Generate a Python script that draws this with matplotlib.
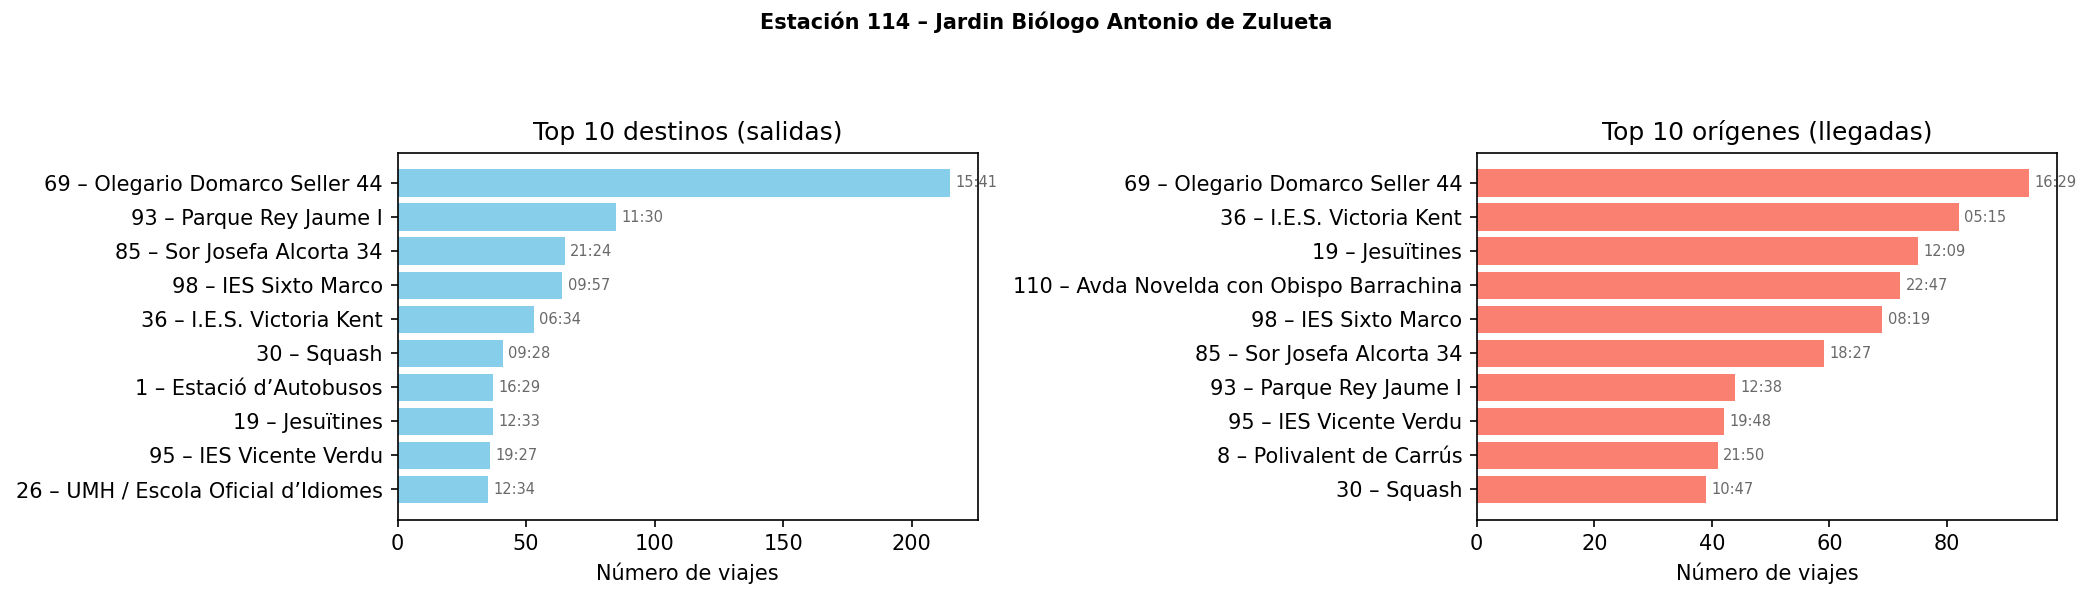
import matplotlib
matplotlib.use("Agg")
import matplotlib.pyplot as plt

dest_names = ["69 – Olegario Domarco Seller 44", "93 – Parque Rey Jaume I", "85 – Sor Josefa Alcorta 34",
              "98 – IES Sixto Marco", "36 – I.E.S. Victoria Kent", "30 – Squash", "1 – Estació d’Autobusos",
              "19 – Jesuïtines", "95 – IES Vicente Verdu", "26 – UMH / Escola Oficial d’Idiomes"]
dest_vals = [215, 85, 65, 64, 53, 41, 37, 37, 36, 35]
dest_times = ["15:41", "11:30", "21:24", "09:57", "06:34", "09:28", "16:29", "12:33", "19:27", "12:34"]

orig_names = ["69 – Olegario Domarco Seller 44", "36 – I.E.S. Victoria Kent", "19 – Jesuïtines",
              "110 – Avda Novelda con Obispo Barrachina", "98 – IES Sixto Marco", "85 – Sor Josefa Alcorta 34",
              "93 – Parque Rey Jaume I", "95 – IES Vicente Verdu", "8 – Polivalent de Carrús", "30 – Squash"]
orig_vals = [94, 82, 75, 72, 69, 59, 44, 42, 41, 39]
orig_times = ["16:29", "05:15", "12:09", "22:47", "08:19", "18:27", "12:38", "19:48", "21:50", "10:47"]

fig, axes = plt.subplots(1, 2, figsize=(13.95, 3.96), dpi=150)
fig.subplots_adjust(left=0.19, right=0.983, top=0.743, bottom=0.125, wspace=0.86)

for ax, names, vals, times, color, title in [
    (axes[0], dest_names, dest_vals, dest_times, "skyblue", "Top 10 destinos (salidas)"),
    (axes[1], orig_names, orig_vals, orig_times, "salmon", "Top 10 orígenes (llegadas)"),
]:
    y = list(range(len(names)))
    ax.barh(y, vals, color=color)
    ax.set_yticks(y)
    ax.set_yticklabels(names)
    ax.invert_yaxis()
    off = max(vals) * 0.01
    for yi, v, t in zip(y, vals, times):
        ax.text(v + off, yi, t, va="center", ha="left", fontsize=7, color="dimgray")
    ax.set_xlabel("Número de viajes")
    ax.set_title(title)

fig.suptitle("Estación 114 – Jardin Biólogo Antonio de Zulueta", fontsize=10, fontweight="bold")
fig.savefig("out.png")
